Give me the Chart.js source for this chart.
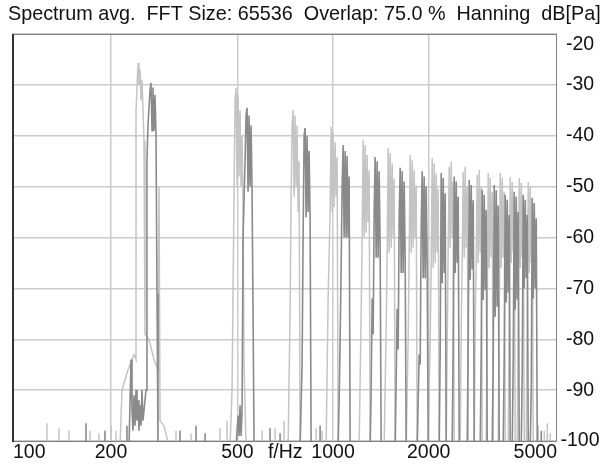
<!DOCTYPE html>
<html>
<head>
<meta charset="utf-8">
<title>Spectrum avg.</title>
<script src="https://cdn.jsdelivr.net/npm/chart.js@4.4.1/dist/chart.umd.min.js"></script>
<style>
    html, body { margin: 0; padding: 0; background: #fff; overflow: hidden; }
    canvas { display: block; }
</style>
</head>
<body>
<canvas id="spectrumChart" width="604" height="464"></canvas>
<script>
/**
 * Averaged FFT spectrum, two channels, log frequency axis
 */

const titleText = 'Spectrum avg.  FFT Size: 65536  Overlap: 75.0 %  Hanning  dB[Pa]';

// Frequency axis (Hz)
const freqMin = 97.6;
const freqMax = 5070;
const freqTicks = [100, 200, 500, 1000, 2000, 5000];
const freqTickLabels = ['100', '200', '500', '1000', '2000', '5000'];
const freqUnitLabel = 'f/Hz';

// Level axis (dB re Pa)
const dbMin = -100;
const dbMax = -20;
const dbStep = 10;
const dbTicks = [-20, -30, -40, -50, -60, -70, -80, -90, -100];

// Channel 1 (light trace): frequency in Hz, level in dB
const lightHz = [
    98,
    125.7, 125.7, 125.7, 137.2, 137.2, 137.2, 147.5, 147.5, 147.5,
    171.8, 171.8, 171.8, 183.3, 183.3, 183.3, 200, 200, 200, 207.4, 207.4, 207.4,
    213.5, 216.6, 226.3, 236.3, 239.8, 239.8, 243.3, 245.0, 246.8, 248.6, 250.4, 254.1, 255.9, 263.5, 273.2, 281.2, 283.3, 285.4, 293.7, 304.5,
    320.4, 320.4, 320.4, 357.3, 357.3, 357.3, 440.9, 440.9, 440.9, 463.9, 463.9, 463.9,
    474.1, 481.0, 484.6, 488.1, 491.6, 495.2, 498.8, 502.5, 506.1, 509.7, 513.4, 517.2, 520.9, 524.7, 532.4,
    597.9, 597.9, 597.9, 657.0, 657.0, 657.0, 701.4, 701.4, 701.4,
    722.0, 732.5, 737.8, 743.2, 748.6, 754.1, 759.6, 765.1, 770.7, 776.3, 781.9, 787.6,
    884.6, 884.6, 884.6, 923.9, 923.9, 923.9,
    951.1, 965.0, 979.1, 986.2, 993.4, 1000.7, 1007.9, 1015.3, 1022.7, 1030.1, 1037.6,
    1208.4, 1226.0, 1234.9, 1243.9, 1252.9, 1262.1, 1271.3, 1280.5, 1289.8, 1299.2, 1308.7,
    1448.5, 1469.7, 1480.4, 1491.2, 1502.0, 1513.0, 1524.0, 1535.1, 1546.3, 1557.5, 1568.9,
    1699.2, 1724.0, 1736.6, 1749.2, 1761.9, 1774.8, 1787.7, 1800.7, 1813.8, 1827.0, 1840.3,
    1993.1, 2022.2, 2036.9, 2051.8, 2066.7, 2081.7, 2096.9, 2112.2, 2127.5, 2143.0, 2158.6,
    2271.0, 2287.6, 2304.2, 2321.0, 2337.9, 2354.9, 2372.0, 2389.3, 2406.7,
    2513.7, 2532.0, 2550.4, 2569.0, 2587.7, 2606.5, 2625.5, 2644.6, 2663.8,
    2782.4, 2802.6, 2823.0, 2843.6, 2864.3, 2885.1, 2906.1, 2927.3, 2948.6,
    3035.4, 3057.5, 3079.7, 3102.1, 3124.7, 3147.5, 3170.4, 3193.5,
    3311.4, 3335.5, 3359.7, 3384.2, 3408.8, 3433.6, 3458.6, 3483.8,
    3560.4, 3586.3, 3612.5, 3638.8, 3665.3, 3692.0, 3718.9, 3745.9,
    3800.6, 3828.3, 3856.1, 3884.2, 3912.5, 3941.0, 3969.7, 3998.6,
    4057.0, 4086.5, 4116.3, 4146.3, 4176.4, 4206.8, 4237.5, 4268.3,
    4425.8, 4425.8, 4425.8, 4622.7, 4622.7, 4622.7, 4724.4, 4724.4, 4724.4, 4828.3, 4828.3, 4828.3,
    5070
];
const lightDb = [
    -101,
    -101, -96.5, -101, -101, -97.5, -101, -101, -98, -101,
    -101, -98, -101, -101, -98.5, -101, -101, -97, -101, -101, -98, -101,
    -101, -90, -86, -83, -84, -35, -25.7, -30, -27, -33, -29, -41, -79, -80, -84, -86, -50, -96, -97, -101,
    -101, -98, -101, -101, -98.5, -101, -101, -97.5, -101, -101, -96, -101,
    -101, -90, -70, -50, -33, -30.6, -50, -32, -48, -35, -50, -40, -55, -85, -101,
    -101, -98, -101, -101, -97.5, -101, -101, -96, -101,
    -101, -75, -52, -38, -35, -52, -36, -50, -38, -55, -45, -101,
    -101, -97.5, -101, -101, -98, -101,
    -101, -72, -55, -38.3, -55, -39.3, -54, -41.3, -52, -44.3, -101,
    -101, -75, -60, -40.8, -60, -41.8, -59, -43.8, -57, -46.8, -101,
    -101, -78, -63, -42.4, -63, -43.4, -62, -45.4, -60, -48.4, -101,
    -101, -80, -63, -43.8, -63, -44.8, -62, -46.8, -60, -49.8, -101,
    -101, -80, -66, -44.4, -66, -45.4, -65, -47.4, -63, -50.4, -101,
    -101, -80, -62, -46.1, -62, -45.1, -60, -49, -101,
    -101, -78, -64, -47.1, -64, -46.1, -62, -50, -101,
    -101, -76, -65, -47.7, -65, -46.7, -63, -50, -101,
    -101, -75, -47.3, -66, -48.3, -64, -51, -101,
    -101, -74, -47.3, -66, -48.3, -64, -51, -101,
    -101, -74, -48.1, -65, -49.1, -63, -52, -101,
    -101, -72, -48.3, -66, -49.3, -64, -52, -101,
    -101, -72, -49.1, -67, -50.1, -65, -53, -101,
    -101, -97, -101, -101, -98, -101, -101, -96.5, -101, -101, -98.5, -101,
    -101
];

// Channel 2 (dark trace): frequency in Hz, level in dB
const darkHz = [
    98,
    166.9, 166.9, 166.9, 191.5, 191.5, 191.5, 224.6, 224.6, 224.6,
    227.9, 231.3, 232.9, 234.6, 236.3, 238.1, 239.8, 241.5, 243.3, 245.0, 246.8, 248.6, 250.4, 252.2, 257.8, 259.6, 261.5, 265.4, 267.3, 269.3, 271.2, 273.2, 275.2, 277.2, 279.2, 281.2,
    329.9, 329.9, 329.9, 370.5, 370.5, 370.5, 395.5, 395.5, 395.5,
    495.2, 502.4, 506.1, 509.7, 513.4, 517.2, 520.9, 528.5, 532.4, 536.2, 540.1, 544.1, 548.1, 552.1, 556.1, 560.1, 564.2,
    633.6, 633.6, 633.6, 681.3, 681.3, 681.3,
    787.6, 799.1, 804.9, 810.8, 816.7, 822.6, 828.6, 834.7, 840.8, 846.9, 853.1,
    910.6, 910.6, 910.6,
    1037.6, 1045.2, 1052.8, 1060.5, 1068.2, 1076.0, 1083.8, 1091.7, 1099.7, 1107.6, 1115.7, 1123.8, 1132.0,
    1308.7, 1318.2, 1327.8, 1337.5, 1347.2, 1357.0, 1366.9, 1376.9, 1386.9, 1397.0, 1407.1, 1417.4,
    1568.9, 1580.3, 1591.8, 1603.4, 1615.1, 1626.8, 1638.6, 1650.6, 1662.6, 1674.7, 1686.9, 1699.2,
    1840.3, 1853.7, 1867.2, 1880.7, 1894.4, 1908.2, 1922.1, 1936.1, 1950.2, 1964.4, 1978.7, 1993.1,
    2158.6, 2174.3, 2190.1, 2206.1, 2222.2, 2238.3, 2254.6, 2271.0,
    2372.0, 2389.3, 2406.7, 2424.3, 2441.9, 2459.7, 2477.6, 2495.6,
    2644.6, 2663.8, 2683.3, 2702.8, 2722.5, 2742.3, 2762.3, 2782.4,
    2906.1, 2927.3, 2948.6, 2970.1, 2991.7, 3013.5, 3035.4, 3057.5,
    3170.4, 3193.5, 3216.7, 3240.1, 3263.7, 3287.5, 3311.4, 3335.5,
    3433.6, 3458.6, 3483.8, 3509.2, 3534.7, 3560.4, 3586.3, 3612.5,
    3665.3, 3692.0, 3718.9, 3745.9, 3773.2, 3800.6, 3828.3, 3856.1,
    3912.5, 3941.0, 3969.7, 3998.6, 4027.7, 4057.0, 4086.5, 4116.3,
    4176.4, 4206.8, 4237.5, 4268.3, 4299.4, 4330.7, 4362.2, 4394.0,
    4523.2, 4523.2, 4523.2,
    5070
];
const darkDb = [
    -101,
    -101, -96.5, -101, -101, -98, -101, -101, -97, -101,
    -101, -84, -94, -98, -91, -97, -90, -96, -92, -98, -93, -97, -90, -96, -90, -45, -38, -31, -29.6, -39, -30.5, -39, -32, -40, -71, -101,
    -101, -98, -101, -101, -97, -101, -101, -98.5, -101,
    -101, -95, -99, -93, -99, -94, -60, -45, -36, -34.5, -51, -36, -50, -38, -51, -75, -101,
    -101, -97.5, -101, -101, -98.5, -101,
    -101, -85, -60, -40, -38.5, -56, -40, -55, -43, -56, -101,
    -101, -97, -101,
    -101, -92, -80, -66, -50, -41.8, -60, -43, -60, -44, -60, -48, -101,
    -101, -90, -72, -79, -55, -44.2, -64, -45, -64, -47, -62, -101,
    -101, -88, -74, -82, -56, -46.3, -67, -47, -67, -49, -64, -101,
    -101, -92, -83, -85, -58, -47, -68, -48, -68, -50, -65, -101,
    -101, -82, -47.3, -69, -48.3, -67, -51.3, -101,
    -101, -80, -48, -67, -49, -65, -52, -101,
    -101, -80, -48.7, -68.3, -49.7, -66.3, -52.7, -101,
    -101, -82, -50.6, -72.3, -51.6, -70.3, -54.6, -101,
    -101, -84, -49.7, -75.6, -50.7, -73.6, -53.7, -101,
    -101, -83, -51.6, -72.8, -52.6, -70.8, -55.6, -101,
    -101, -84, -51, -74.2, -52, -72.2, -55, -101,
    -101, -86, -51.6, -70, -52.6, -68, -55.6, -101,
    -101, -90, -52.2, -72, -53.2, -70, -56.2, -101,
    -101, -98, -101,
    -101
];

const FONT_FAMILY = "'Liberation Sans', Arial, sans-serif";
const FONT_SIZE = 19.5;
const TITLE_FONT_SIZE = 19.8;

/**
 * Pair frequency and level arrays into {x, y} points
 */
function toPoints(hz, db) {
    return hz.map((f, i) => ({ x: f, y: db[i] }));
}

/**
 * Plot frame, title and axis labels
 */
const frameAndLabels = {
    id: 'frameAndLabels',
    afterDraw(chart) {
        const { ctx, chartArea } = chart;
        const xScale = chart.scales.x;
        const yScale = chart.scales.y;
        ctx.save();

        // frame
        ctx.strokeStyle = '#808080';
        ctx.lineWidth = 1;
        ctx.strokeRect(chartArea.left + 0.5, chartArea.top + 0.5,
            chartArea.right - chartArea.left - 1, chartArea.bottom - chartArea.top);
        ctx.strokeStyle = '#333';
        ctx.lineWidth = 2;
        ctx.beginPath();
        ctx.moveTo(chartArea.left + 1, chartArea.top);
        ctx.lineTo(chartArea.left + 1, chartArea.bottom + 1);
        ctx.stroke();

        ctx.fillStyle = '#111';
        ctx.textBaseline = 'middle';

        // title line
        ctx.font = `${TITLE_FONT_SIZE}px ${FONT_FAMILY}`;
        ctx.textAlign = 'left';
        ctx.fillText(titleText, 8, 15);

        ctx.font = `${FONT_SIZE}px ${FONT_FAMILY}`;

        // level labels, top one kept inside the frame
        ctx.textAlign = 'center';
        const labelX = chartArea.right + 23;
        dbTicks.forEach(value => {
            const y = Math.max(yScale.getPixelForValue(value), chartArea.top + 11);
            ctx.fillText(String(value), labelX, y);
        });

        // frequency labels
        const labelY = 453;
        freqTicks.forEach((value, i) => {
            let x = xScale.getPixelForValue(value);
            if (i === 0) {
                ctx.textAlign = 'left';
                x = chartArea.left + 1;
            } else if (i === freqTicks.length - 1) {
                ctx.textAlign = 'right';
                x = chartArea.right;
            } else {
                ctx.textAlign = 'center';
            }
            ctx.fillText(freqTickLabels[i], x, labelY);
        });

        // unit label halfway between the 500 and 1000 ticks
        ctx.textAlign = 'center';
        const unitX = (xScale.getPixelForValue(500) + xScale.getPixelForValue(1000)) / 2;
        ctx.fillText(freqUnitLabel, unitX, labelY);

        ctx.restore();
    }
};

Chart.defaults.font.family = FONT_FAMILY;
Chart.defaults.font.size = FONT_SIZE;
Chart.defaults.color = '#111';

const ctx = document.getElementById('spectrumChart');

new Chart(ctx, {
    type: 'line',
    data: {
        datasets: [
            {
                label: 'Channel 2',
                data: toPoints(darkHz, darkDb),
                borderColor: '#8a8a8a',
                borderWidth: 1.6,
                pointRadius: 0,
                tension: 0,
                fill: false
            },
            {
                label: 'Channel 1',
                data: toPoints(lightHz, lightDb),
                borderColor: '#c4c4c4',
                borderWidth: 1.5,
                pointRadius: 0,
                tension: 0,
                fill: false
            }
        ]
    },
    options: {
        responsive: false,
        animation: false,
        events: [],
        layout: {
            padding: { top: 34, left: 12, right: 0, bottom: 0 }
        },
        plugins: {
            legend: { display: false },
            tooltip: { enabled: false },
            title: { display: false }
        },
        scales: {
            x: {
                type: 'logarithmic',
                min: freqMin,
                max: freqMax,
                afterBuildTicks: scale => {
                    scale.ticks = freqTicks.map(v => ({ value: v }));
                },
                afterFit: scale => {
                    scale.height = 23;
                },
                ticks: { display: false },
                grid: {
                    drawTicks: false,
                    lineWidth: 1.5,
                    color: c => (c.tick && (c.tick.value === 200 || c.tick.value === 500 ||
                        c.tick.value === 1000 || c.tick.value === 2000)) ? '#cbcbcb' : 'rgba(0,0,0,0)'
                },
                border: { display: false }
            },
            y: {
                position: 'right',
                min: dbMin,
                max: dbMax,
                afterFit: scale => {
                    scale.width = 47;
                },
                ticks: {
                    stepSize: dbStep,
                    display: false
                },
                grid: {
                    drawTicks: false,
                    lineWidth: 1.5,
                    color: '#cbcbcb'
                },
                border: { display: false }
            }
        }
    },
    plugins: [frameAndLabels]
});
</script>
</body>
</html>
